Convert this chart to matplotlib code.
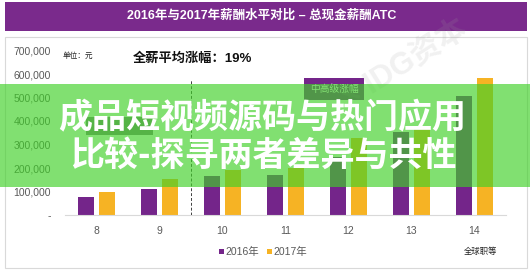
import matplotlib
matplotlib.use("Agg")
import matplotlib.pyplot as plt
from matplotlib.patches import Rectangle
import numpy as np

plt.rcParams['font.family'] = ['Liberation Sans', 'Noto Sans CJK SC', 'DejaVu Sans']

grades = ['8', '9', '10', '11', '12', '13', '14']
atc_2016 = [77000, 111000, 166000, 170000, 245000, 355000, 508000]
atc_2017 = [98000, 152000, 190000, 200000, 327000, 372000, 585000]
y_ticks = [0, 100000, 200000, 300000, 400000, 500000, 600000, 700000]
y_labels = ['-', '100,000', '200,000', '300,000', '400,000', '500,000', '600,000', '700,000']

PURPLE = '#74258A'
YELLOW = '#F6B324'
W, H = 530, 272

fig = plt.figure(figsize=(W / 100, H / 100), dpi=100)


def box(x0, y0, x1, y1):
    # pixel box (top-left origin) -> figure fraction rect
    return [x0 / W, 1 - y1 / H, (x1 - x0) / W, (y1 - y0) / H]


# header bar and panel frame
fig.add_artist(Rectangle((5 / W, 1 - 31 / H), 522 / W, 29 / H, transform=fig.transFigure,
                         facecolor='#7A2A8C', edgecolor='none', zorder=1))
fig.text(262 / W, 1 - 16 / H, '2016年与2017年薪酬水平对比 – 总现金薪酬ATC', color='white',
         fontsize=9, fontweight='bold', ha='center', va='center', zorder=2)
fig.add_artist(Rectangle((5 / W, 1 - 268 / H), 522 / W, 231 / H, transform=fig.transFigure,
                         facecolor='white', edgecolor='#D9D9D9', linewidth=0.8, zorder=0))

ax = fig.add_axes(box(65, 50.5, 506, 215))
ax.patch.set_alpha(0)
x = np.arange(len(grades))
bw = 0.265
ax.bar(x - 0.167, atc_2016, bw, color=PURPLE, label='2016年', zorder=2)
ax.bar(x + 0.167, atc_2017, bw, color=YELLOW, label='2017年', zorder=2)
ax.set_xlim(-0.5, 6.5)
ax.set_ylim(0, 700000)
ax.set_xticks(x, grades)
ax.set_yticks(y_ticks, y_labels)
ax.tick_params(length=0, labelsize=7.5, labelcolor='#595959')
ax.tick_params(axis='x', pad=8)
ax.tick_params(axis='y', pad=10)
for s in ['top', 'right', 'left']:
    ax.spines[s].set_visible(False)
ax.spines['bottom'].set_color('#D9D9D9')

# split between junior and senior grades
ax.plot([1.5, 1.5], [0, 575000], color='#404040', linestyle=(0, (3, 2)), linewidth=0.7, zorder=3)

# group labels
ax.text(3.77, 535000, '中高级涨幅', color='white', fontsize=7, ha='center', va='center', zorder=4,
        bbox=dict(boxstyle='square,pad=0.6', facecolor=PURPLE, edgecolor='none'))
fig.add_artist(Rectangle((86 / W, 1 - 135 / H), 67 / W, 18 / H, transform=fig.transFigure,
                         facecolor='#808080', edgecolor='none', zorder=3))

fig.text(63 / W, 1 - 56 / H, '单位：元', fontsize=5.5, color='#222222', va='center')
fig.text(133 / W, 1 - 59 / H, '全薪平均涨幅：19%', fontsize=9.5, fontweight='bold',
         color='#111111', va='center')
fig.text(497 / W, 1 - 252 / H, '全球职等', fontsize=6, color='#222222', ha='right', va='center')

handles, labels = ax.get_legend_handles_labels()
fig.legend(handles, labels, loc='center', bbox_to_anchor=(263 / W, 1 - 252 / H), ncol=2,
           frameon=False, fontsize=7.5, handlelength=0.45, handleheight=0.45,
           handletextpad=0.15, columnspacing=0.8, labelcolor='#595959')

# faint watermark
fig.text(405 / W, 1 - 64 / H, '× IDG资本', fontsize=22, fontweight='bold', color='#A0A0A0',
         alpha=0.15, rotation=32, ha='center', va='center', zorder=6)

# green overlay banner with headline
fig.add_artist(Rectangle((0, 1 - 187 / H), 1, 103 / H, transform=fig.transFigure,
                         facecolor=(64 / 255, 208 / 255, 40 / 255), alpha=0.66,
                         edgecolor='none', zorder=8))
fig.text(262 / W, 1 - 118 / H, '成品短视频源码与热门应用', fontsize=24.5, fontweight='black',
         color='white', ha='center', va='center', zorder=9, family=['Noto Sans CJK SC'])
fig.text(263 / W, 1 - 155 / H, '比较-探寻两者差异与共性', fontsize=24.5, fontweight='black',
         color='white', ha='center', va='center', zorder=9, family=['Noto Sans CJK SC'])

fig.savefig('out.png', dpi=100)
